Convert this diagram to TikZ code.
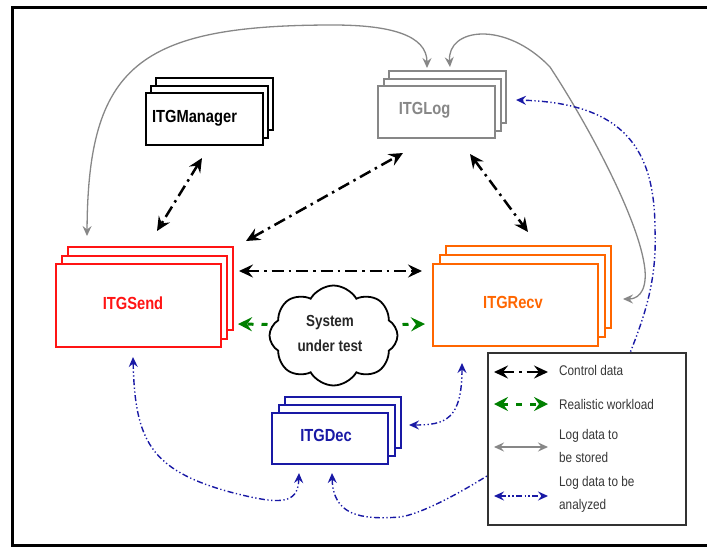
\documentclass[tikz,border=0pt]{standalone}
\usepackage{fontspec}
\setmainfont{Liberation Sans}[FakeStretch=0.84]
\usetikzlibrary{arrows.meta,shapes.symbols,shadows}

\definecolor{sendred}{RGB}{255,20,20}
\definecolor{recvorange}{RGB}{255,102,0}
\definecolor{loggray}{RGB}{135,135,135}
\definecolor{decblue}{RGB}{25,25,165}
\definecolor{wlgreen}{RGB}{0,128,0}
\definecolor{legendtext}{RGB}{55,55,55}

\tikzset{
  % three stacked copies of a box, the front one carries the name
  stackbox/.style n args={3}{
    draw=#1, fill=white, line width=2pt, inner sep=0pt,
    general shadow={shadow xshift=2*#2, shadow yshift=2*#3,
      draw=#1, fill=white, line width=2pt},
    general shadow={shadow xshift=#2, shadow yshift=#3,
      draw=#1, fill=white, line width=2pt}},
  boxlabel/.style={inner sep=0pt, font=\fontsize{17.5}{20}\selectfont\bfseries},
  legendlabel/.style={inner sep=0pt, anchor=west, align=left, text=legendtext,
    font=\fontsize{14}{23}\selectfont},
  bigtip/.style={Stealth[length=14pt,width=13pt,inset=5pt]},
  smalltip/.style={Stealth[length=10pt,width=9pt,inset=3.5pt]},
  ctrl/.style={line width=2.5pt, black,
    dash pattern=on 12pt off 5pt on 2.5pt off 5pt,
    arrows={Stealth[length=14pt,width=13pt,inset=5pt]-Stealth[length=14pt,width=13pt,inset=5pt]}},
  workload/.style={line width=3pt, wlgreen,
    dash pattern=on 6pt off 8pt,
    arrows={-Stealth[length=14pt,width=14pt,inset=5pt]}},
  logstore/.style={line width=1.3pt, loggray,
    arrows={Stealth[length=10pt,width=9pt,inset=3.5pt]-Stealth[length=10pt,width=9pt,inset=3.5pt]}},
  loganalyze/.style={line width=1.4pt, decblue,
    dash pattern=on 6pt off 2.5pt on 1.3pt off 2.5pt on 1.3pt off 2.5pt,
    arrows={Stealth[length=10pt,width=9pt,inset=3.5pt]-Stealth[length=10pt,width=9pt,inset=3.5pt]}},
}

\begin{document}
\begin{tikzpicture}[x=1pt, y=-1pt]
\useasboundingbox (0,0) rectangle (707,547);

% outer frame
\draw[line width=3pt] (707,7) -- (12,7) -- (12,545) -- (707,545);

% components
\node[stackbox={black}{5pt}{7.5pt}, minimum width=117pt, minimum height=52pt] (mgr) at (204.5,119) {};
\node[stackbox={loggray}{5.5pt}{7.5pt}, minimum width=117pt, minimum height=52pt] (log) at (436.5,112) {};
\node[stackbox={sendred}{6pt}{8.5pt}, minimum width=165pt, minimum height=83pt] (send) at (138.5,305.5) {};
\node[stackbox={recvorange}{6.5pt}{9pt}, minimum width=165pt, minimum height=82pt] (recv) at (515.5,305) {};
\node[stackbox={decblue}{6.5pt}{8pt}, minimum width=116pt, minimum height=51pt] (dec) at (330,438.5) {};

\node[boxlabel] (mgrtext) at (194.5,118) {ITGManager};
\node[boxlabel, text=loggray] (logtext) at (424.5,110) {ITGLog};
\node[boxlabel, text=sendred] (sendtext) at (133,303) {ITGSend};
\node[boxlabel, text=recvorange] (recvtext) at (513,302) {ITGRecv};
\node[boxlabel, text=decblue] (dectext) at (326,435) {ITGDec};

% system under test
\node[cloud, draw, line width=1.8pt, cloud puffs=8, cloud puff arc=120, aspect=1.3,
  minimum width=128pt, minimum height=100pt, inner sep=0pt, fill=white] (sut) at (333.5,335.5) {};
\node[inner sep=0pt, align=center, text=black!85,
  font=\fontsize{16}{25}\selectfont\bfseries] (suttext) at (330,333.5) {System\\under test};

% control data
\draw[ctrl] ([shift={(-2.5,12)}]mgr.south) -- ([shift={(18.5,-32)}]send.north);
\draw[ctrl] ([shift={(24,-22)}]send.north east) -- ([shift={(-33.5,14)}]log.south);
\draw[ctrl] ([shift={(33.5,15)}]log.south) -- ([shift={(12.5,-31)}]recv.north);
\draw[ctrl] ([shift={(17,8)}]send.north east) -- ([shift={(-10,8)}]recv.north west);

% realistic workload
\draw[workload] ([shift={(-66,-11)}]sut.center) -- ([shift={(16,18.5)}]send.east);
\draw[workload] ([shift={(69,-11)}]sut.center) -- ([shift={(-7,19)}]recv.west);

% log data to be stored
\draw[logstore] ([shift={(32,-27)}]send.north west)
  .. controls (88,67) and (137,25) .. (333,25)
  .. controls (390,25) and (427,35) .. ([shift={(-9.5,-17)}]log.north);
\draw[logstore] ([shift={(13.5,-18)}]log.north)
  .. controls (447,28) and (505,20) .. (550,67)
  .. controls (585,120) and (640,220) .. (645,270)
  .. controls (647,295) and (635,299) .. ([shift={(24,-6)}]recv.east);

% log data to be analyzed
\draw[loganalyze] ([shift={(-5.5,9)}]send.south)
  .. controls (135,440) and (150,470) .. (230,492)
  .. controls (280,505) and (298,505) .. ([shift={(-31,8)}]dec.south);
\draw[loganalyze] ([shift={(2,8)}]dec.south)
  .. controls (333,515) and (360,520) .. (400,517)
  .. controls (450,510) and (610,400) .. (630,353)
  .. controls (645,315) and (657,280) .. (655,230)
  .. controls (655,150) and (625,103) .. ([shift={(20,-12)}]log.east);
\draw[loganalyze] ([shift={(-53.5,16)}]recv.south)
  .. controls (462,420) and (445,425) .. ([shift={(20,-13.5)}]dec.east);

% legend
\node[draw=black!80, line width=2pt, fill=white, minimum width=198pt, minimum height=172pt,
  inner sep=0pt] (legend) at (587,439) {};
\draw[ctrl] ([shift={(7,20)}]legend.north west) -- ([shift={(61,20)}]legend.north west);
\draw[workload, arrows={Stealth[length=14pt,width=14pt,inset=5pt]-Stealth[length=14pt,width=14pt,inset=5pt]}]
  ([shift={(7,52)}]legend.north west) -- ([shift={(61,52)}]legend.north west);
\draw[logstore] ([shift={(7,95)}]legend.north west) -- ([shift={(61,95)}]legend.north west);
\draw[loganalyze] ([shift={(7,144)}]legend.north west) -- ([shift={(61,144)}]legend.north west);

\node[legendlabel] (lctrl) at (559,370) {Control data};
\node[legendlabel] (lwl) at (559,404) {Realistic workload};
\node[legendlabel] (lstore) at (559,446) {Log data to\\be stored};
\node[legendlabel] (lan) at (559,494) {Log data to be\\analyzed};
\end{tikzpicture}
\end{document}
